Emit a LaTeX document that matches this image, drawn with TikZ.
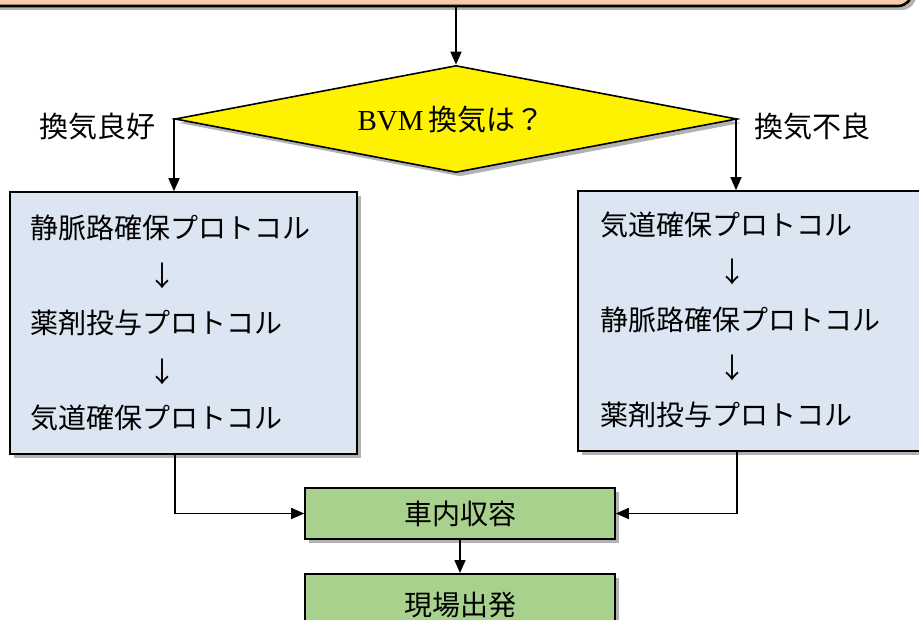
\documentclass[tikz,border=0pt]{standalone}
\usepackage{fontspec}
\setmainfont{Liberation Serif}
\newfontfamily\jp{Noto Sans CJK JP}
\usetikzlibrary{shapes.geometric,arrows.meta,shadows}
\definecolor{peach}{HTML}{F9CBAA}
\definecolor{boxblue}{HTML}{DCE6F2}
\definecolor{boxgreen}{HTML}{A9D18E}
\begin{document}
\begin{tikzpicture}[x=1pt,y=-1pt,
  shade/.style={drop shadow={shadow xshift=4pt,shadow yshift=-4pt,fill=black,opacity=0.3}},
  arr/.style={draw=black,line width=1.6pt,-{Triangle[length=13pt,width=11pt]}},
  txt/.style={font=\jp\fontsize{28}{32}\selectfont,inner sep=0pt},
  bluebox/.style={draw=black,line width=1.6pt,fill=boxblue,shade,minimum width=347pt,inner sep=0pt},
  greenbox/.style={draw=black,line width=1.6pt,fill=boxgreen,shade,minimum width=310pt,inner sep=0pt,font=\jp\fontsize{28}{32}\selectfont}]
\useasboundingbox (0,0) rectangle (919,620);
% top box
\node[draw=black,line width=2.6pt,fill=peach,rounded corners=14pt,shade,minimum width=932pt,minimum height=66pt,inner sep=0pt] (start) at (446,-27) {};
% decision
\node[diamond,aspect=5.2,draw=black,line width=1.6pt,fill=yellow,shade,minimum width=562pt,minimum height=107pt,inner sep=0pt] (dia) at (456,119) {};
\node[inner sep=0pt,font=\fontsize{29}{32}\selectfont] (q) at (451,120) {BVM\,{\jp 換気は？}};
\draw[arr] (start.south -| dia.north) -- (dia.north);
% branch labels
\node[txt,font=\jp\fontsize{29}{32}\selectfont] (good) at (97,127) {換気良好};
\node[txt,font=\jp\fontsize{29}{32}\selectfont] (bad) at (812,127) {換気不良};
% protocol boxes
\node[bluebox,minimum height=262pt] (lbox) at (183.5,323) {};
\node[bluebox,minimum height=260pt] (rbox) at (751.5,321) {};
\draw[arr] (dia.west) -| ([xshift=-9.5pt]lbox.north);
\draw[arr] (dia.east) -| ([xshift=-15.5pt]rbox.north);
% left box text
\node[txt,anchor=west] (l1) at (30,228) {静脈路確保プロトコル};
\node[txt] (la1) at (162,276) {↓};
\node[txt,anchor=west] (l2) at (30,323) {薬剤投与プロトコル};
\node[txt] (la2) at (162,372) {↓};
\node[txt,anchor=west] (l3) at (30,418) {気道確保プロトコル};
% right box text
\node[txt,anchor=west] (r1) at (600,225) {気道確保プロトコル};
\node[txt] (ra1) at (732,272) {↓};
\node[txt,anchor=west] (r2) at (600,320) {静脈路確保プロトコル};
\node[txt] (ra2) at (732,368) {↓};
\node[txt,anchor=west] (r3) at (600,415) {薬剤投与プロトコル};
% bottom boxes
\node[greenbox,minimum height=51pt] (car) at (460,513.5) {車内収容};
\node[greenbox,minimum height=64pt,anchor=north] (dep) at (460,573) {};
\node[txt] (deptxt) at (460,605) {現場出発};
\draw[arr] ([xshift=-8.5pt]lbox.south) |- (car.west);
\draw[arr] ([xshift=-14.5pt]rbox.south) |- (car.east);
\draw[arr] (car.south) -- (dep.north);
\end{tikzpicture}
\end{document}
